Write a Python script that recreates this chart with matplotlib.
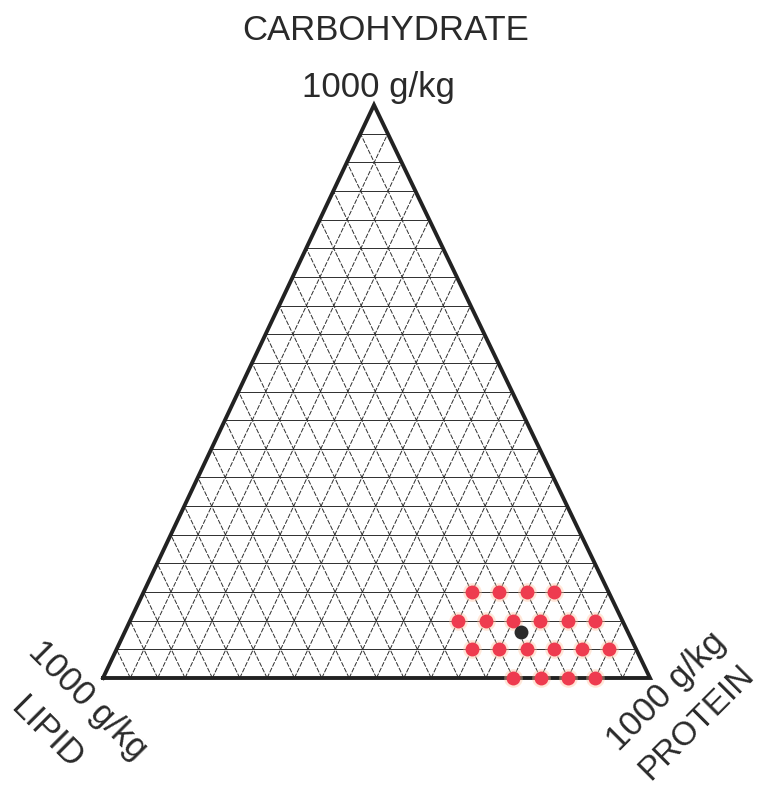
import numpy as np
import matplotlib
matplotlib.use("Agg")
from matplotlib import pyplot as plt

# diet compositions, g/kg (protein, lipid, carbohydrate)
red_protein = [750, 800, 850, 900,
               650, 700, 750, 800, 850, 900,
               600, 650, 700, 750, 800, 850,
               600, 650, 700, 750]
red_lipid = [250, 200, 150, 100,
             300, 250, 200, 150, 100, 50,
             300, 250, 200, 150, 100, 50,
             250, 200, 150, 100]
red_carb = [0, 0, 0, 0,
            50, 50, 50, 50, 50, 50,
            100, 100, 100, 100, 100, 100,
            150, 150, 150, 150]
black_protein = [725]
black_lipid = [195]
black_carb = [80]

n_div = 20
total = 1000.0

# triangle corners in figure pixels: lipid (left), protein (right), carbohydrate (top)
L = np.array([103.0, 678.0])
P = np.array([650.0, 678.0])
C = np.array([374.0, 105.0])


def tern(p, l, c):
    p = np.asarray(p, float) / total
    l = np.asarray(l, float) / total
    c = np.asarray(c, float) / total
    xy = np.outer(p, P) + np.outer(l, L) + np.outer(c, C)
    return xy[:, 0], xy[:, 1]


plt.rcParams['font.family'] = ['Liberation Sans', 'DejaVu Sans']

fig = plt.figure(figsize=(7.61, 7.88), dpi=100)
ax = fig.add_axes([0, 0, 1, 1])
ax.set_xlim(0, 761)
ax.set_ylim(788, 0)
ax.axis('off')

# grid lines
step = total / n_div
gc = '#2e2e2e'
for i in range(1, n_div):
    v = i * step
    # constant carbohydrate
    x, y = tern([total - v, 0], [0, total - v], [v, v])
    ax.plot(x, y, color=gc, lw=0.7, zorder=1)
    # constant protein
    x, y = tern([v, v], [total - v, 0], [0, total - v])
    ax.plot(x, y, color=gc, lw=0.7, ls=(0, (5, 1.5)), zorder=1)
    # constant lipid
    x, y = tern([total - v, 0], [v, v], [0, total - v])
    ax.plot(x, y, color=gc, lw=0.7, ls=(0, (5, 1.5)), zorder=1)

# outline
x, y = tern([0, total, 0, 0], [total, 0, 0, total], [0, 0, total, 0])
ax.plot(x, y, color='#222222', lw=2.8, solid_joinstyle='miter', zorder=2)

# dots
x, y = tern(red_protein, red_lipid, red_carb)
ax.scatter(x, y, s=180, color='#ffc29e', alpha=0.4, lw=0, zorder=3)
ax.scatter(x, y, s=100, color='#ee3b4f', lw=0, zorder=4)
x, y = tern(black_protein, black_lipid, black_carb)
ax.scatter(x, y, s=100, color='#2b2b2b', lw=0, zorder=5)

# labels
tc = '#2a2a2a'
fs = 25
ax.text(386, 30, 'CARBOHYDRATE', fontsize=fs, ha='center', va='center', color=tc)
ax.text(378, 87, '1000 g/kg', fontsize=fs, ha='center', va='center', color=tc)
ax.text(88, 700, '1000 g/kg', fontsize=fs, ha='center', va='center',
        rotation=-45, rotation_mode='anchor', color=tc)
ax.text(47, 733, 'LIPID', fontsize=fs, ha='center', va='center',
        rotation=-45, rotation_mode='anchor', color=tc)
ax.text(666, 691, '1000 g/kg', fontsize=fs, ha='center', va='center',
        rotation=45, rotation_mode='anchor', color=tc)
ax.text(697, 723, 'PROTEIN', fontsize=24, ha='center', va='center',
        rotation=45, rotation_mode='anchor', color=tc)

fig.savefig('out.png', dpi=100)
